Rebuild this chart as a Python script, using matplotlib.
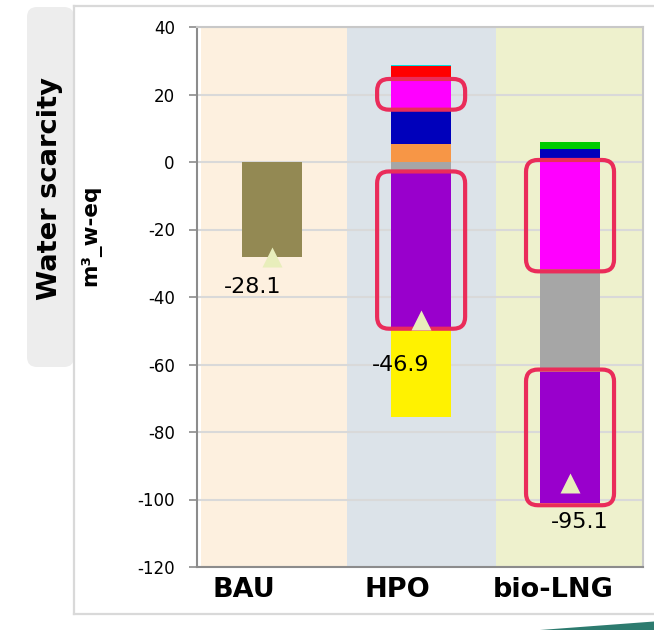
import matplotlib
matplotlib.use("Agg")
import matplotlib.pyplot as plt
from matplotlib.patches import FancyBboxPatch, Polygon
from matplotlib.lines import Line2D
import matplotlib.transforms as mtransforms

# ---------------- data ----------------
categories = ["BAU", "HPO", "bio-LNG"]
olive   = [-28.1, 0.0, 0.0]
orange  = [0.0, 5.4, 1.2]
blue    = [0.0, 10.7, 2.8]
magenta = [0.0, 7.9, -31.8]
gray    = [0.0, -3.4, -30.3]
purple  = [0.0, -45.4, -39.0]
yellow  = [0.0, -26.7, 0.0]
red     = [0.0, 4.3, 0.0]
cyan    = [0.0, 0.3, 0.0]
green   = [0.0, 0.0, 2.0]
totals  = [-28.1, -46.9, -95.1]
total_labels = ["-28.1", "-46.9", "-95.1"]
yticks = [-120, -100, -80, -60, -40, -20, 0, 20, 40]
highlights = [("HPO", "magenta"), ("HPO", "purple"),
              ("bio-LNG", "magenta"), ("bio-LNG", "purple")]

series = [
    ("olive", olive, "#938953"),
    ("orange", orange, "#F79646"),
    ("blue", blue, "#0000BB"),
    ("magenta", magenta, "#FF00FF"),
    ("gray", gray, "#A6A6A6"),
    ("purple", purple, "#9900CC"),
    ("yellow", yellow, "#FFF200"),
    ("red", red, "#FF0000"),
    ("cyan", cyan, "#00E0E0"),
    ("green", green, "#00CC00"),
]

band_colors = ["#FDF0DF", "#DCE3E9", "#EEF1CD"]

# ---------------- figure ----------------
W, H, DPI = 654, 630, 100
fig = plt.figure(figsize=(W / DPI, H / DPI), dpi=DPI)
fig.patch.set_facecolor("white")

def fx(px):
    return px / W

def fy(py):
    return 1 - py / H

# outer frame
frame_c = "#D9D9D9"
fig.add_artist(Line2D([fx(74), fx(74)], [fy(6), fy(614)], color=frame_c, lw=1.6, transform=fig.transFigure))
fig.add_artist(Line2D([fx(74), 1.0], [fy(6), fy(6)], color=frame_c, lw=1.6, transform=fig.transFigure))
fig.add_artist(Line2D([fx(74), 1.0], [fy(614), fy(614)], color=frame_c, lw=1.6, transform=fig.transFigure))

# y label background
bg = FancyBboxPatch((0.27, (H - 367) / DPI), 0.47, 3.60,
                    boxstyle="round,pad=0,rounding_size=0.1",
                    transform=fig.dpi_scale_trans, facecolor="#EDEDED",
                    edgecolor="none", zorder=0)
fig.add_artist(bg)

# teal decoration
fig.add_artist(Polygon([(5.40, 0.0), (6.54, 0.085), (6.54, 0.0)], closed=True,
                       transform=fig.dpi_scale_trans, facecolor="#2D7B6F",
                       edgecolor="none"))

ax = fig.add_axes([fx(197), fy(567), fx(643) - fx(197), fy(27) - fy(567)])
ax.set_facecolor("white")
ax.set_xlim(-0.505, 2.49)
ax.set_ylim(-120, 40)

# bands
band_edges = [(-0.48, 0.5), (0.5, 1.5), (1.5, 2.49)]
for (a, b), c in zip(band_edges, band_colors):
    ax.axvspan(a, b, color=c, zorder=0.2, lw=0)

ax.set_axisbelow(True)
ax.yaxis.grid(True, color="#D9D9D9", lw=1.5, zorder=0.5)
ax.set_yticks(yticks)
ax.set_yticklabels([str(t) for t in yticks], fontsize=12)
ax.tick_params(axis="y", length=6, width=1.2, color="#8C8C8C", pad=10)
ax.set_xticks([])

for s in ["left", "bottom"]:
    ax.spines[s].set_color("#8C8C8C")
    ax.spines[s].set_linewidth(1.5)
for s in ["top", "right"]:
    ax.spines[s].set_color("#C8C8C8")
    ax.spines[s].set_linewidth(1.5)

# stacked bars
x = list(range(len(categories)))
bw = 0.403
pos_base = [0.0] * len(categories)
neg_base = [0.0] * len(categories)
extents = {}
for name, vals, col in series:
    for i, v in enumerate(vals):
        if v == 0:
            continue
        if v > 0:
            bottom = pos_base[i]
            pos_base[i] += v
        else:
            bottom = neg_base[i]
            neg_base[i] += v
        ax.bar(x[i], v, bottom=bottom, width=bw, color=col, lw=0, zorder=2)
        extents[(categories[i], name)] = (min(bottom, bottom + v), max(bottom, bottom + v))

# highlight boxes
px_per_x = (643 - 197) / (2.49 + 0.505)
px_per_y = 540 / 160
aspect = px_per_x / px_per_y
xpad = 14 / px_per_x
ypad = 0.6
for cat, name in highlights:
    i = categories.index(cat)
    lo, hi = extents[(cat, name)]
    box = FancyBboxPatch((x[i] - bw / 2 - xpad, lo - ypad),
                         bw + 2 * xpad, (hi - lo) + 2 * ypad,
                         boxstyle="round,pad=0,rounding_size=0.08",
                         mutation_aspect=aspect,
                         facecolor="none", edgecolor="#EA2C5A", lw=3, zorder=4)
    ax.add_patch(box)

# total markers and labels
ax.plot(x, totals, linestyle="none", marker="^", markersize=15,
        markerfacecolor="#E8EEBB", markeredgecolor="none", zorder=5)
label_offsets = [(-14.4, -21.6), (-14.4, -32.4), (7.2, -28.0)]
for i, (t, lab) in enumerate(zip(totals, total_labels)):
    ax.annotate(lab, (x[i], t), xytext=label_offsets[i], textcoords="offset points",
                ha="center", va="center", fontsize=16, zorder=6)

# category labels
cat_label_x = [-0.19, 0.84, 1.89]
trans = mtransforms.blended_transform_factory(ax.transData, ax.transAxes)
for cx, cat in zip(cat_label_x, categories):
    ax.text(cx, -0.043, cat, transform=trans, ha="center", va="center",
            fontsize=19.5, fontweight="bold")

# y axis titles
fig.text(fx(50), fy(188), "Water scarcity", rotation=90, ha="center", va="center",
         fontsize=19.7, fontweight="bold")
fig.text(fx(91), fy(235), "m³_w-eq", rotation=90, ha="center", va="center",
         fontsize=15.5, fontweight="bold")

fig.savefig("out.png", dpi=DPI, facecolor="white")
